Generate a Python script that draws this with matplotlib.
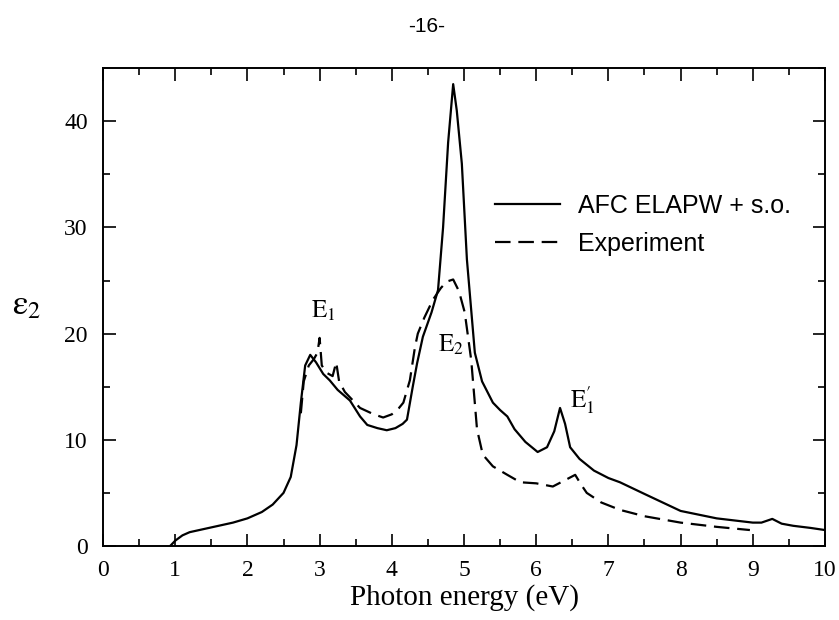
import matplotlib
matplotlib.use("Agg")
import matplotlib.pyplot as plt
from matplotlib.ticker import MultipleLocator
from matplotlib.lines import Line2D

plt.rcParams["mathtext.fontset"] = "stix"

# AFC ELAPW + s.o. (solid)
theory_e = [0.93, 1.0, 1.1, 1.2, 1.4, 1.6, 1.8, 2.0, 2.2, 2.35, 2.5, 2.6, 2.68, 2.74,
            2.8, 2.87, 2.95, 3.05, 3.14, 3.25, 3.42, 3.56, 3.66, 3.8, 3.93, 4.05, 4.15,
            4.21, 4.29, 4.35, 4.43, 4.55, 4.64, 4.71, 4.78, 4.85, 4.9, 4.97, 5.04, 5.15,
            5.25, 5.4, 5.5, 5.6, 5.7, 5.85, 6.02, 6.15, 6.25, 6.33, 6.4, 6.47, 6.6, 6.8,
            7.0, 7.16, 7.5, 8.0, 8.5, 9.0, 9.12, 9.27, 9.4, 9.56, 9.8, 10.0]
theory_eps = [0.0, 0.5, 1.0, 1.3, 1.6, 1.9, 2.2, 2.6, 3.2, 3.9, 5.0, 6.5, 9.5, 13.5,
              17.0, 18.0, 17.3, 16.2, 15.6, 14.7, 13.7, 12.2, 11.4, 11.1, 10.9, 11.1, 11.5,
              11.9, 15.0, 17.2, 19.7, 22.0, 24.1, 30.0, 38.0, 43.5, 41.0, 36.0, 27.0, 18.2,
              15.5, 13.5, 12.8, 12.2, 11.0, 9.8, 8.85, 9.3, 10.8, 13.0, 11.5, 9.3, 8.2, 7.1,
              6.4, 6.0, 4.9, 3.3, 2.6, 2.2, 2.2, 2.55, 2.1, 1.9, 1.7, 1.5]

# Experiment (dashed)
exp_e = [2.74, 2.78, 2.85, 2.92, 2.97, 3.0, 3.03, 3.1, 3.18, 3.23, 3.27, 3.35, 3.56,
         3.75, 3.88, 4.0, 4.1, 4.16, 4.25, 4.32, 4.36, 4.45, 4.57, 4.68, 4.76, 4.85,
         4.93, 5.01, 5.1, 5.18, 5.26, 5.4, 5.6, 5.78, 6.0, 6.23, 6.4, 6.54, 6.62, 6.7,
         6.9, 7.16, 7.5, 8.0, 8.5, 8.96]
exp_eps = [12.5, 15.5, 17.0, 17.6, 18.2, 19.6, 17.0, 16.3, 16.0, 17.3, 15.5, 14.5, 13.0,
           12.4, 12.1, 12.4, 13.0, 13.5, 15.6, 18.7, 20.0, 21.5, 23.2, 24.3, 24.9, 25.1,
           24.0, 22.0, 17.5, 11.0, 8.6, 7.5, 6.7, 6.0, 5.9, 5.6, 6.2, 6.7, 5.8, 5.0,
           4.1, 3.4, 2.8, 2.2, 1.8, 1.5]

SERIF = "Liberation Serif"
SANS = "Liberation Sans"

fig = plt.figure(figsize=(8.39, 6.2), dpi=100)
ax = fig.add_axes([0.1228, 0.1194, 0.8605, 0.7706])

ax.plot(theory_e, theory_eps, color="black", lw=1.6)
ax.plot(exp_e, exp_eps, color="black", lw=1.6, dashes=(7, 3.5))

ax.set_xlim(0, 10)
ax.set_ylim(0, 45)
ax.xaxis.set_major_locator(MultipleLocator(1))
ax.xaxis.set_minor_locator(MultipleLocator(0.5))
ax.yaxis.set_major_locator(MultipleLocator(10))
ax.yaxis.set_minor_locator(MultipleLocator(5))
ax.tick_params(which="both", direction="in", top=True, right=True, width=1.2)
ax.tick_params(which="major", length=9, labelsize=17)
ax.tick_params(axis="x", which="major", pad=10)
ax.tick_params(axis="y", which="major", pad=11)
ax.tick_params(which="minor", length=5)
for lab in ax.get_xticklabels() + ax.get_yticklabels():
    lab.set_family(SERIF)
for sp in ax.spines.values():
    sp.set_linewidth(1.4)

ax.set_xlabel("Photon energy (eV)", family=SERIF, fontsize=21, labelpad=2)
fig.text(0.032, 0.51, r"$\mathrm{\varepsilon}_2$", fontsize=25, ha="center", va="center")

ax.text(2.88, 21.5, r"$\mathrm{E}_1$", fontsize=18, ha="left", va="baseline")
ax.text(4.64, 18.3, r"$\mathrm{E}_2$", fontsize=18, ha="left", va="baseline")
ax.text(6.47, 13.1, r"$\mathrm{E}_1^{\prime}$", fontsize=18, ha="left", va="baseline")

handles = [Line2D([], [], color="black", lw=1.6),
           Line2D([], [], color="black", lw=1.6, dashes=(7, 3.5))]
ax.legend(handles, ["AFC ELAPW + s.o.", "Experiment"], loc="upper left",
          bbox_to_anchor=(0.543, 0.737), frameon=False, borderpad=0, borderaxespad=0,
          handlelength=2.6, handletextpad=0.7, labelspacing=0.56,
          prop={"family": SANS, "size": 18})

fig.text(0.509, 0.958, "-16-", family=SANS, fontsize=15, ha="center", va="center")

fig.savefig("out.png", dpi=100, facecolor="white")
